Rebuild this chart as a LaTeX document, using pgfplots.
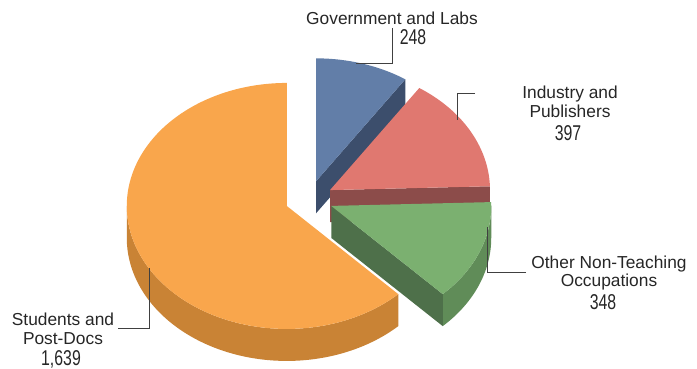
\documentclass[border=0pt]{standalone}
\usepackage{pgfplots}
\pgfplotsset{compat=1.18}
\usepgfplotslibrary{fillbetween}
\usepackage{fontspec}
\setmainfont{Liberation Sans}
\newfontfamily\numfont[FakeStretch=0.74]{Liberation Sans}
\definecolor{cGtop}{RGB}{98,126,168}
\definecolor{cGwall}{RGB}{60,78,108}
\definecolor{cItop}{RGB}{224,120,112}
\definecolor{cIwall}{RGB}{140,76,74}
\definecolor{cOtop}{RGB}{123,176,112}
\definecolor{cOwall}{RGB}{78,112,74}
\definecolor{cOrim}{RGB}{96,140,88}
\definecolor{cStop}{RGB}{249,166,76}
\definecolor{cSrim}{RGB}{201,131,53}
\definecolor{lead}{RGB}{64,64,64}
\begin{document}
\begin{tikzpicture}
% ---- data ----
\def\vG{248}\def\vI{397}\def\vO{348}\def\vS{1639}
\pgfmathsetmacro\tot{\vG+\vI+\vO+\vS}
\pgfmathsetmacro\aGhi{90}
\pgfmathsetmacro\aGlo{90-360*(\vG/\tot)}
\pgfmathsetmacro\aIlo{\aGlo-360*(\vI/\tot)}
\pgfmathsetmacro\aOlo{\aIlo-360*(\vO/\tot)}
\pgfmathsetmacro\aSlo{\aOlo-360*(\vS/\tot)}
% ---- geometry (image coordinates, y downwards) ----
\def\Cx{309}\def\Cy{199}\def\rx{160}\def\ry{123}\def\dep{32}\def\ex{24}
\pgfmathsetmacro\kk{\ry/\rx}
% slice centres (exploded along mid angle)
\pgfmathsetmacro\mG{(\aGhi+\aGlo)/2}
\pgfmathsetmacro\mI{(\aGlo+\aIlo)/2}
\pgfmathsetmacro\mO{(\aIlo+\aOlo)/2}
\pgfmathsetmacro\mS{(\aOlo+\aSlo)/2}
\pgfmathsetmacro\gx{\Cx+\ex*cos(\mG)}\pgfmathsetmacro\gy{\Cy-\ex*\kk*sin(\mG)}
\pgfmathsetmacro\ix{\Cx+\ex*cos(\mI)}\pgfmathsetmacro\iy{\Cy-\ex*\kk*sin(\mI)}
\pgfmathsetmacro\ox{\Cx+\ex*cos(\mO)}\pgfmathsetmacro\oy{\Cy-\ex*\kk*sin(\mO)}
\pgfmathsetmacro\sx{\Cx+\ex*cos(\mS)}\pgfmathsetmacro\sy{\Cy-\ex*\kk*sin(\mS)}
% wall end points
\pgfmathsetmacro\gpx{\gx+\rx*cos(\aGlo)}\pgfmathsetmacro\gpy{\gy-\ry*sin(\aGlo)}
\pgfmathsetmacro\ipx{\ix+\rx*cos(\aIlo)}\pgfmathsetmacro\ipy{\iy-\ry*sin(\aIlo)}
\pgfmathsetmacro\opx{\ox+\rx*cos(\aOlo)}\pgfmathsetmacro\opy{\oy-\ry*sin(\aOlo)}
\begin{axis}[at={(0,0)}, anchor=south west,
  width=697bp, height=369bp, scale only axis,
  xmin=0, xmax=697, ymin=0, ymax=369, y dir=reverse,
  hide axis, clip=false]
% ---- Government and Labs ----
\addplot[fill=cGwall, draw=none] coordinates {(\gx,\gy) (\gpx,\gpy) (\gpx,\gpy+\dep) (\gx,\gy+\dep)};
\addplot[fill=cGtop, draw=none, domain=\aGlo:\aGhi, samples=60] ({\gx+\rx*cos(x)},{\gy-\ry*sin(x)}) -- (axis cs:\gx,\gy) -- cycle;
% ---- Industry and Publishers ----
\addplot[fill=cIwall, draw=none] coordinates {(\ix,\iy) (\ipx,\ipy) (\ipx,\ipy+\dep) (\ix,\iy+\dep)};
\addplot[fill=cItop, draw=none, domain=\aIlo:\aGlo, samples=60] ({\ix+\rx*cos(x)},{\iy-\ry*sin(x)}) -- (axis cs:\ix,\iy) -- cycle;
% ---- Students and Post-Docs ----
\addplot[draw=none, name path=SA, domain=-180:\aOlo, samples=80] ({\sx+\rx*cos(x)},{\sy-\ry*sin(x)});
\addplot[draw=none, name path=SB, domain=-180:\aOlo, samples=80] ({\sx+\rx*cos(x)},{\sy+\dep-\ry*sin(x)});
\addplot[cSrim] fill between[of=SA and SB];
\addplot[fill=cStop, draw=none, domain=\aSlo:\aOlo, samples=120] ({\sx+\rx*cos(x)},{\sy-\ry*sin(x)}) -- (axis cs:\sx,\sy) -- cycle;
% ---- Other Non-Teaching Occupations ----
\addplot[fill=cOwall, draw=none] coordinates {(\ox,\oy) (\opx,\opy) (\opx,\opy+\dep) (\ox,\oy+\dep)};
\addplot[draw=none, name path=OA, domain=\aOlo:0, samples=40] ({\ox+\rx*cos(x)},{\oy-\ry*sin(x)});
\addplot[draw=none, name path=OB, domain=\aOlo:0, samples=40] ({\ox+\rx*cos(x)},{\oy+\dep-\ry*sin(x)});
\addplot[cOrim] fill between[of=OA and OB];
\addplot[fill=cOtop, draw=none, domain=\aOlo:\aIlo, samples=60] ({\ox+\rx*cos(x)},{\oy-\ry*sin(x)}) -- (axis cs:\ox,\oy) -- cycle;
% ---- leader lines ----
\draw[lead, line width=0.9bp] (axis cs:392,28) -- (axis cs:392,63) -- (axis cs:356,63);
\draw[lead, line width=0.9bp] (axis cs:475,93) -- (axis cs:457,93) -- (axis cs:457,120);
\draw[lead, line width=0.9bp] (axis cs:526,272) -- (axis cs:487,272) -- (axis cs:487,227);
\draw[lead, line width=0.9bp] (axis cs:118,328) -- (axis cs:149,328) -- (axis cs:149,268);
% ---- labels ----
\tikzset{lab/.style={anchor=base, inner sep=0pt, text=black!85, font=\fontsize{17.4pt}{19pt}\selectfont},
         num/.style={anchor=base, inner sep=0pt, text=black!85, font=\numfont\fontsize{21.5pt}{22pt}\selectfont}}
\node[lab] at (axis cs:392,25) {Government and Labs};
\node[num] at (axis cs:413,45) {248};
\node[lab] at (axis cs:570,99) {Industry and};
\node[lab] at (axis cs:570,118) {Publishers};
\node[num] at (axis cs:568,141) {397};
\node[lab] at (axis cs:609,269) {Other Non-Teaching};
\node[lab] at (axis cs:609,287) {Occupations};
\node[num] at (axis cs:603,310) {348};
\node[lab] at (axis cs:63,326) {Students and};
\node[lab] at (axis cs:63,344) {Post-Docs};
\node[num] at (axis cs:61,365) {1,639};
\end{axis}
\pgfresetboundingbox
\path (0,0) rectangle (697bp,369bp);
\end{tikzpicture}
\end{document}
